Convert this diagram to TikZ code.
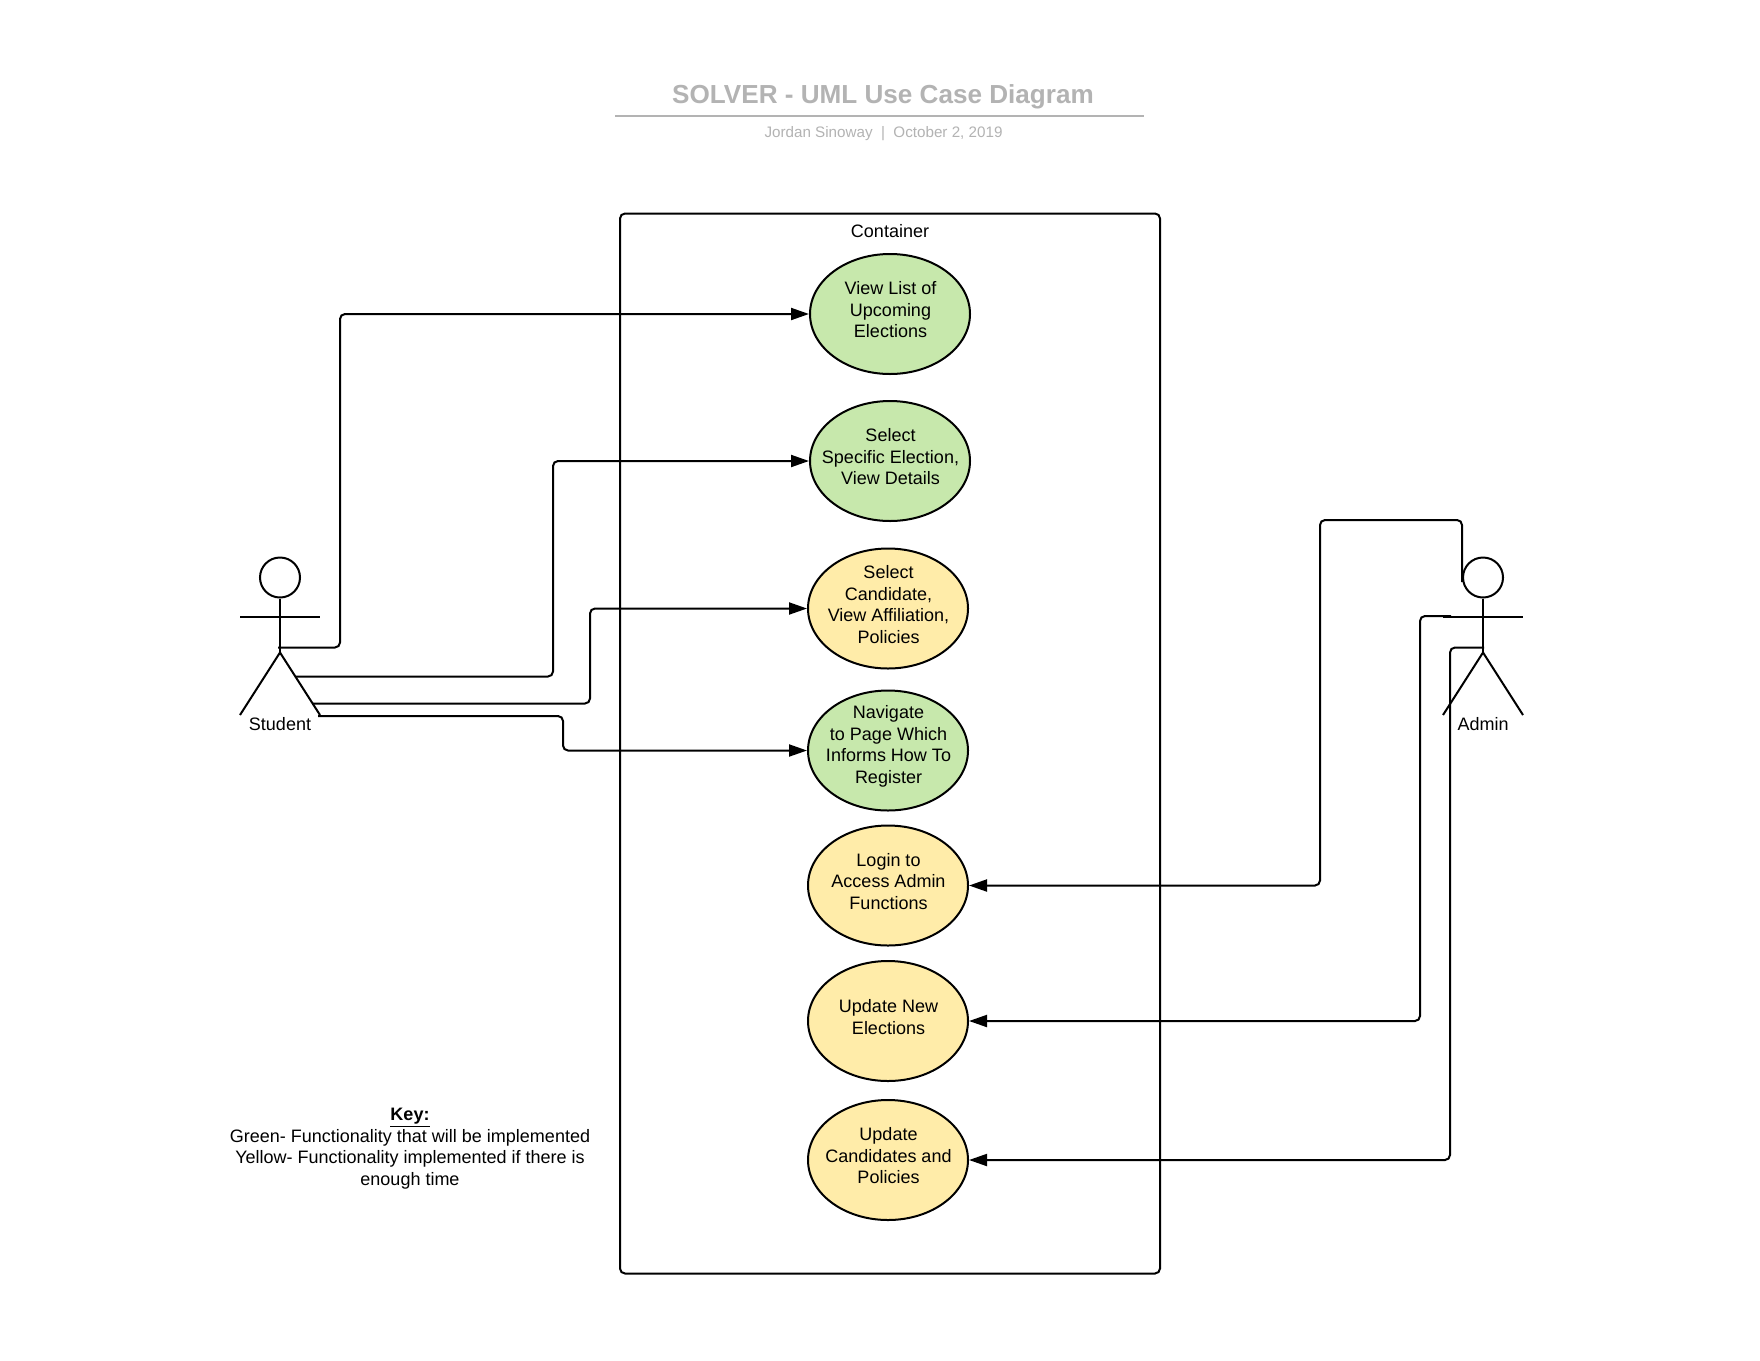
\documentclass[tikz,border=0pt]{standalone}
\usepackage{fontspec}
\setmainfont{Liberation Sans}
\usetikzlibrary{arrows.meta,shapes.geometric}

\definecolor{doneGreen}{HTML}{C7E8AC}
\definecolor{maybeYellow}{HTML}{FFECA9}
\definecolor{titleGray}{HTML}{B3B3B3}

\tikzset{
  plain/.style={font=\fontsize{18}{21.5}\selectfont, align=center, text=black},
  usetext/.style={plain, inner sep=0pt, xshift=0.5pt, yshift=4pt},
  usecase/.style={ellipse, draw, line width=2pt, minimum width=160pt, minimum height=120pt, inner sep=0pt},
  link/.style={draw, line width=2pt, rounded corners=5pt, -{Triangle[length=18pt,width=12pt]}},
  limb/.style={line width=2pt},
}

\begin{document}
\begin{tikzpicture}[x=1pt,y=-1pt]
  \fill[white] (0,0) rectangle (1760,1360);
  \useasboundingbox (0,0) rectangle (1760,1360);

  % heading
  \node[text=titleGray, font=\fontsize{26.1}{32}\bfseries\selectfont] (title) at (883,97) {SOLVER - UML Use Case Diagram};
  \draw[titleGray, line width=2pt] (615,116) -- (1144,116);
  \node[text=titleGray, font=\fontsize{15.2}{18}\selectfont] (byline) at (883.5,134) {Jordan Sinoway~~|~~October 2, 2019};

  % system box
  \node[draw, line width=2pt, rounded corners=5pt, minimum width=540pt, minimum height=1060pt, inner sep=0pt] (container) at (890,743.5) {};
  \node[plain] (containerlabel) at (890,231) {Container};

  % use cases
  \node[usecase, fill=doneGreen, label={[usetext]center:{View List of\\Upcoming\\Elections}}] (list) at (890,314) {};
  \node[usecase, fill=doneGreen, label={[usetext]center:{Select\\Specific Election,\\View Details}}] (details) at (890,461) {};
  \node[usecase, fill=maybeYellow, label={[usetext]center:{Select\\Candidate,\\View Affiliation,\\Policies}}] (candidate) at (888,608.5) {};
  \node[usecase, fill=doneGreen, label={[usetext]center:{Navigate\\to Page Which\\Informs How To\\Register}}] (register) at (888,750.5) {};
  \node[usecase, fill=maybeYellow, label={[usetext]center:{Login to\\Access Admin\\Functions}}] (login) at (888,885.5) {};
  \node[usecase, fill=maybeYellow, label={[usetext]center:{Update New\\Elections}}] (elections) at (888,1021) {};
  \node[usecase, fill=maybeYellow, label={[usetext]center:{Update\\Candidates and\\Policies}}] (policies) at (888,1160) {};

  % actors
  \foreach \x/\who in {280/Student,1483/Admin} {
      \node[circle, draw, line width=2pt, minimum size=40pt, inner sep=0pt] (head\who) at (\x,577.5) {};
      \coordinate (hip\who) at (\x,652.5);
      \draw[limb] (head\who) -- (hip\who);
      \draw[limb] (\x-40,617) -- (\x+40,617);
      \draw[limb] (\x-40,715) -- (hip\who) -- (\x+40,715);
      \node[plain] (name\who) at (\x,724.5) {\who};
  }

  % student connectors
  \coordinate (stuA) at (278,647.5);
  \coordinate (stuB) at (295,676.5);
  \coordinate (stuC) at (313,703.5);
  \coordinate (stuD) at (318,716);
  \draw[link] (stuA) -- ++(62,0) |- (list.west);
  \draw[link] (stuB) -- ++(258,0) |- (details.west);
  \draw[link] (stuC) -- ++(277,0) |- (candidate.west);
  \draw[link] (stuD) -- ++(245,0) |- (register.west);

  % admin connectors
  \coordinate (admA) at (1462,582);
  \coordinate (admB) at (1451,616);
  \coordinate (admC) at (1484,647.5);
  \draw[link] (admA) -- ++(0,-62) -| ++(-142,100) |- (login.east);
  \draw[link] (admB) -- ++(-31,0) |- (elections.east);
  \draw[link] (admC) -- ++(-34,0) |- (policies.east);

  % key
  \node[plain] (key) at (410,1148.5) {\textbf{\underline{Key:}}\\Green- Functionality that will be implemented\\Yellow- Functionality implemented if there is\\enough time};
\end{tikzpicture}
\end{document}
